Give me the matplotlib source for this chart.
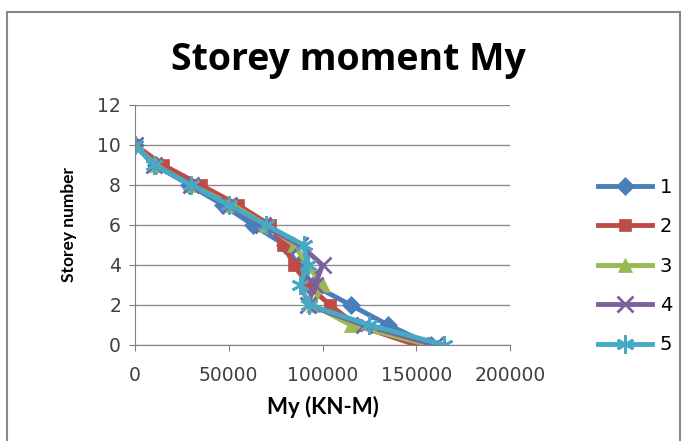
import matplotlib
matplotlib.use("Agg")
import matplotlib.pyplot as plt
from matplotlib.patches import Rectangle

# storey moment My per storey, five load cases
storeys = [10, 9, 8, 7, 6, 5, 4, 3, 2, 1, 0]
my_1 = [0, 11000, 29000, 47000, 63000, 80000, 87000, 95000, 115000, 135000, 158000]
my_2 = [0, 15000, 35000, 55000, 72000, 79000, 85000, 92000, 104000, 118000, 150000]
my_3 = [0, 11000, 30000, 52000, 70000, 85000, 92000, 100000, 95000, 115000, 157000]
my_4 = [0, 10000, 30000, 50000, 68000, 88000, 100000, 96000, 92000, 122000, 160000]
my_5 = [0, 10000, 30000, 50000, 70000, 90000, 92000, 88000, 93000, 125000, 165000]
labels = ["1", "2", "3", "4", "5"]
x_ticks = [0, 50000, 100000, 150000, 200000]
y_ticks = [0, 2, 4, 6, 8, 10, 12]

colors = ["#4A7EBB", "#BE4B48", "#98B954", "#7D60A0", "#46AAC5"]
markers = ["D", "s", "^", "x", (6, 2, 0)]
msizes = [9, 9, 10, 11, 13]

plt.rcParams['font.family'] = ['Lato', 'DejaVu Sans']

fig = plt.figure(figsize=(6.86, 4.41), dpi=100)
fig.patches.append(Rectangle((7/686, -0.01), 673/686, 1 - 12/441 + 0.01,
                             transform=fig.transFigure, fill=False,
                             edgecolor="#888888", linewidth=1.5))

ax = fig.add_axes([135/686, 1 - 345/441, 375/686, 240/441])
series = [my_1, my_2, my_3, my_4, my_5]
for vals, lab, c, m, ms in zip(series, labels, colors, markers, msizes):
    ax.plot(vals, storeys, color=c, marker=m, markersize=ms, linewidth=3.5,
            markeredgewidth=2 if m in ("x", (6, 2, 0)) else 0.5,
            markeredgecolor=c, label=lab)

ax.set_xlim(0, 200000)
ax.set_ylim(0, 12)
ax.set_xticks(x_ticks)
ax.set_yticks(y_ticks)
ax.grid(axis="y", color="#8c8c8c", linewidth=1)
ax.set_axisbelow(True)
for s in ["top", "right"]:
    ax.spines[s].set_visible(False)
for s in ["left", "bottom"]:
    ax.spines[s].set_color("#808080")
ax.tick_params(colors="#808080", labelcolor="#404040", length=4)
for t in ax.get_xticklabels() + ax.get_yticklabels():
    t.set_fontfamily("DejaVu Sans")
    t.set_fontsize(13.5)
ax.tick_params(axis="x", pad=11)
ax.tick_params(axis="y", pad=6)

ax.set_xlabel("My (KN-M)", fontsize=16, fontweight="bold", labelpad=8)
ax.set_ylabel("Storey number", fontsize=12.5, fontweight="bold", labelpad=15)
fig.text(348/686, 1 - 60/441, "Storey moment My", ha="center", va="center",
         fontsize=27, fontweight="bold", family="Open Sans")

fig.legend(loc="center left", bbox_to_anchor=(580/686, 1 - 266/441), frameon=False,
           prop={"family": "DejaVu Sans", "size": 14}, labelspacing=1.05,
           handlelength=2.8, handletextpad=0.4)

fig.savefig("out.png", dpi=100)
